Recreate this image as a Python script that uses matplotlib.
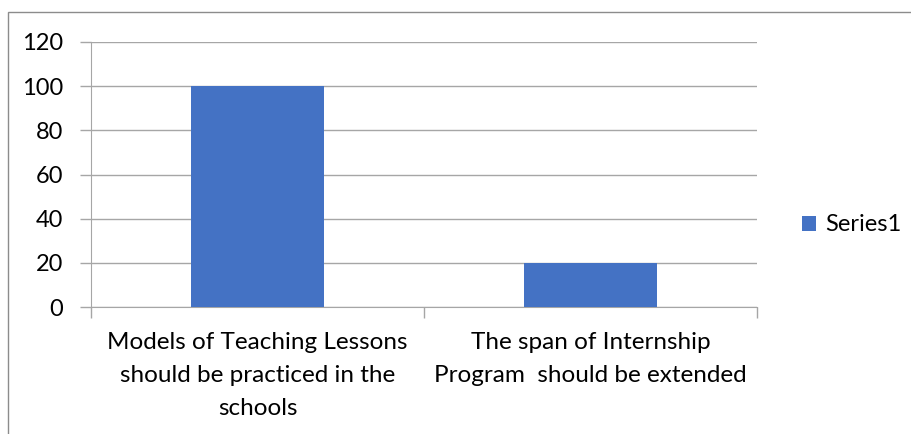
import matplotlib.pyplot as plt
from matplotlib.patches import Rectangle

categories = ["Models of Teaching Lessons\nshould be practiced in the\nschools",
              "The span of Internship\nProgram  should be extended"]
values = [100, 20]
yticks = [0, 20, 40, 60, 80, 100, 120]
series_name = "Series1"

plt.rcParams['font.family'] = ['Lato', 'DejaVu Sans']

fig = plt.figure(figsize=(9.12, 4.34), dpi=100)
W, H = 912, 434
ax = fig.add_axes([91 / W, 1 - 307 / H, (757 - 91) / W, (307 - 42) / H])

grid_c = "#a6a6a6"
x = [0, 1]
ax.bar(x, values, width=0.4, color="#4472c4", label=series_name, zorder=3)
ax.set_xlim(-0.5, 1.5)
ax.set_ylim(0, 120)
ax.set_yticks(yticks)
ax.set_yticklabels([str(v) for v in yticks], fontsize=17)
ax.yaxis.grid(True, color=grid_c, linewidth=1)
ax.set_axisbelow(True)

ax.set_xticks([-0.5, 0.5, 1.5])
ax.set_xticklabels([])
ax.tick_params(axis='x', length=8, color=grid_c, width=1)
ax.tick_params(axis='y', length=8, color=grid_c, width=1, pad=12)
for i, c in enumerate(categories):
    ax.text(x[i], -0.095, c, transform=ax.get_xaxis_transform(), ha='center', va='top',
            fontsize=17.5, linespacing=1.7)

for s in ['top', 'right']:
    ax.spines[s].set_visible(False)
for s in ['left', 'bottom']:
    ax.spines[s].set_color(grid_c)

ax.legend(loc='center left', bbox_to_anchor=(1.035, 0.31), frameon=False, fontsize=17,
          handlelength=0.6, handleheight=0.6, handletextpad=0.4)

# outer chart border (runs off the image on right and bottom)
fig.patches.append(Rectangle((8 / W, -0.1), 1.1, 1 - 12 / H + 0.1, transform=fig.transFigure,
                             fill=False, edgecolor="#8c8c8c", linewidth=1))

fig.savefig("out.png", dpi=100)
